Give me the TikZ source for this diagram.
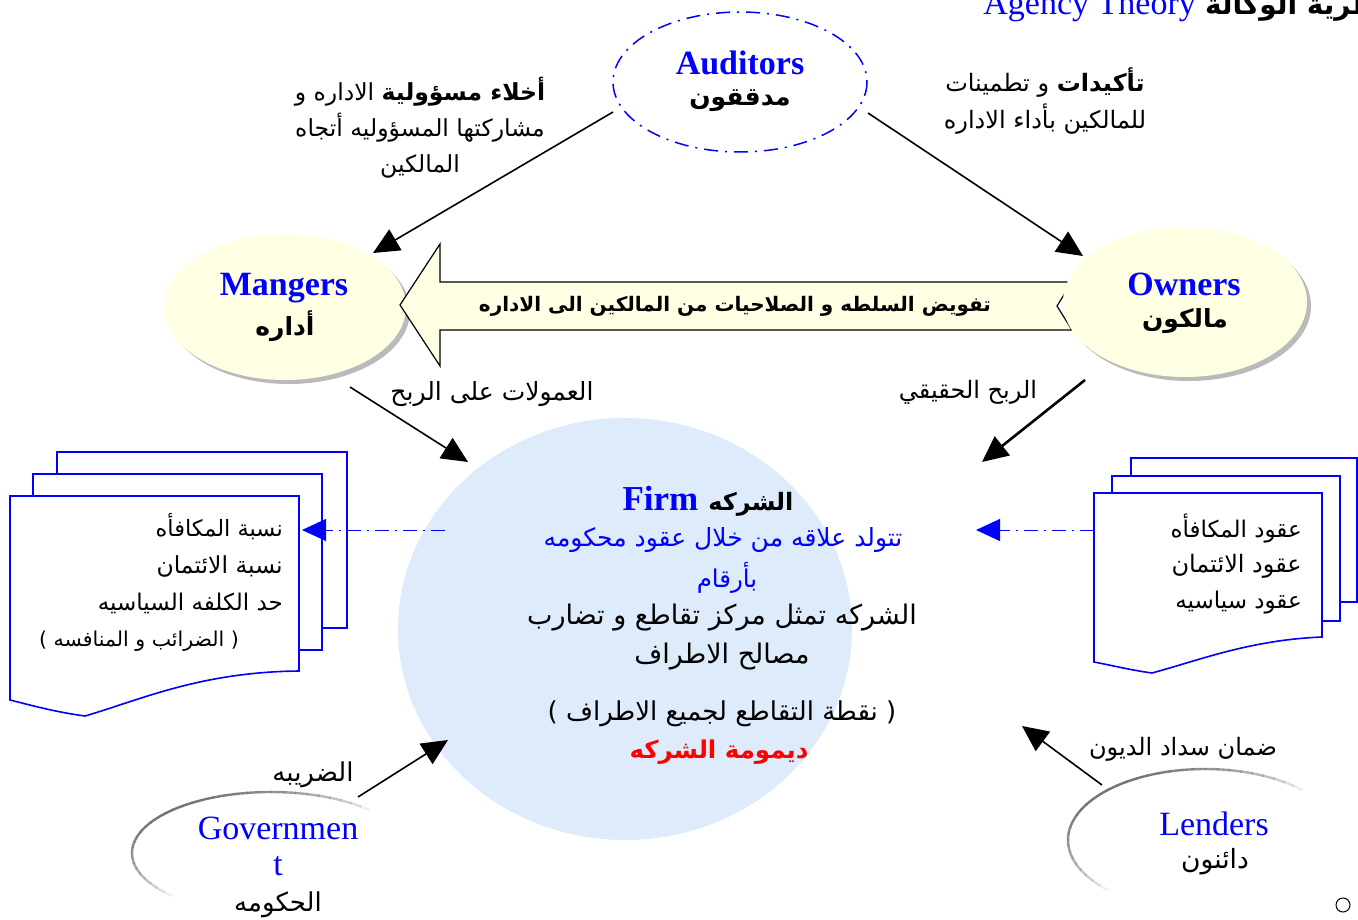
\documentclass[tikz,border=0pt]{standalone}
\usepackage{fontspec}
\setmainfont{Liberation Serif}
\newfontfamily\arabicfont[Script=Arabic]{DejaVu Sans}
\TeXXeTstate=1
\usetikzlibrary{arrows.meta,shadows,calc,shapes.geometric}
\newcommand{\ar}[1]{{\arabicfont\beginR #1\endR}}
\newcommand{\arb}[1]{{\arabicfont\bfseries\beginR #1\endR}}
\newcommand{\fs}[2]{\fontsize{#1}{#2}\selectfont}
\definecolor{cream}{HTML}{FFFFE3}
\definecolor{firmfill}{HTML}{DDEBFB}
\begin{document}
\begin{tikzpicture}[x=1pt,y=-1pt,
  txt/.style={inner sep=0pt, align=center, font=\fs{24}{36}},
  lat/.style={inner sep=0pt, align=center, text=blue, font=\fs{34}{40}},
  latb/.style={lat, font=\fs{34}{40}\bfseries},
  arrowline/.style={line width=1.6pt, -{Triangle[length=26pt,width=24pt]}},
  dashdot/.style={blue, line width=1pt, dash pattern=on 14pt off 6pt on 2pt off 6pt,
    -{Triangle[length=24pt,width=22pt]}},
  party/.style={ellipse, fill=cream, draw=none,
    drop shadow={shadow xshift=4pt, shadow yshift=-4pt, fill=black!45, opacity=0.6}},
  docpage/.style={draw=blue, line width=1.6pt, fill=white}
]
\useasboundingbox (0,0) rectangle (1358,920);

% ---------- title ----------
\node[lat, anchor=base east] (title) at (1196,15) {Agency Theory};
\node[inner sep=0pt, anchor=base west, font=\fs{28}{32}] (titlear) at (1205,15) {\arb{نظرية الوكالة}};

% ---------- auditors ----------
\draw[blue, line width=1.5pt, dash pattern=on 14pt off 7pt on 2pt off 7pt]
  (740,82) ellipse[x radius=127, y radius=70];
\coordinate (aud) at (740,82);
\node[latb] (audEn) at (740,63) {Auditors};
\node[txt, font=\fs{25}{28}] (audAr) at (740,101) {\arb{مدققون}};

% ---------- side labels of the auditors ----------
\node[txt, font=\fs{23.5}{36}] (leftlbl) at (420,128) {%
  \ar{{\bfseries أخلاء مسؤولية} الاداره و}\\
  \ar{مشاركتها المسؤوليه أتجاه}\\
  \ar{المالكين}};
\node[txt, font=\fs{24}{37}] (rightlbl) at (1045,101) {%
  \ar{{\bfseries تأكيدات} و تطمينات}\\
  \ar{للمالكين بأداء الاداره}};

% ---------- managers, big arrow, owners ----------
\node[party, minimum width=242pt, minimum height=146pt] (mgr) at (285,307) {};
\node[latb] (mgrEn) at (284,288) {Mangers};
\node[txt, font=\fs{25}{28}] (mgrAr) at (285,326) {\arb{أداره}};

\coordinate (tip) at (400,305);
\draw[fill=cream, line width=1.2pt, line join=miter]
  (tip) -- (440,244) -- (440,282) -- (1072,282) -- (1057,306) -- (1072,330)
  -- (440,330) -- (440,366) -- cycle;
\node[txt, font=\fs{20}{24}] (deleg) at (735,306)
  {\arb{تفويض السلطه و الصلاحيات من المالكين الى الاداره}};

\node[party, minimum width=244pt, minimum height=150pt] (own) at (1185,302) {};
\node[latb] (ownEn) at (1184,284) {Owners};
\node[txt, font=\fs{25}{28}] (ownAr) at (1185,321) {\arb{مالكون}};

% ---------- auditors to managers / owners ----------
\coordinate (audL) at (613,112);
\coordinate (audR) at (868,113);
\coordinate (mgrTop) at (373,253);
\coordinate (ownTop) at (1083,256);
\draw[arrowline] (audL) -- (mgrTop);
\draw[arrowline] (audR) -- (ownTop);

% ---------- the firm ----------
\node[ellipse, fill=firmfill, minimum width=454pt, minimum height=422pt, inner sep=0pt] (firm) at (625,629) {};
\node[inner sep=0pt, anchor=base] (firmT) at (708,510)
  {{\color{blue}\fs{35}{40}\bfseries Firm}\hspace{10pt}{\fs{24}{28}\arb{الشركه}}};
\node[txt, text=blue, font=\fs{25}{30}] (firm1) at (723,540) {\ar{تتولد علاقه من خلال عقود محكومه}};
\node[txt, text=blue, font=\fs{24.5}{30}] (firm2) at (727,578) {\ar{بأرقام}};
\node[txt, font=\fs{27}{39}] (firm3) at (722,637) {%
  \ar{الشركه تمثل مركز تقاطع و تضارب}\\ \ar{مصالح الاطراف}};
\node[txt, font=\fs{26}{30}] (firm4) at (722,714) {\ar{( نقطة التقاطع لجميع الاطراف )}};
\node[txt, text=red, font=\fs{24.5}{28}] (firm5) at (719,752) {\arb{ديمومة الشركه}};

% ---------- managers / owners to the firm ----------
\coordinate (mgrOut) at (350,387);
\coordinate (firmNW) at (468,462);
\coordinate (ownOut) at (1085,380);
\coordinate (firmNE) at (982,462);
\draw[arrowline] (mgrOut) -- (firmNW);
\draw[arrowline, line width=2.6pt] (ownOut) -- (firmNE);
\node[txt, font=\fs{25}{30}] (commis) at (492,394) {\ar{العمولات على الربح}};
\node[txt] (profit) at (968,392) {\ar{الربح الحقيقي}};

% ---------- left document stack ----------
\draw[docpage] (57,452) rectangle (347,628);
\draw[docpage] (33,474) rectangle (322,650);
\draw[docpage] (10,496) -- (299,496) -- (299,671)
  .. controls (200,672) and (140,700) .. (85,716)
  .. controls (55,712) and (30,705) .. (10,700) -- cycle;
\node[txt, anchor=east, font=\fs{22.5}{28}] (l1) at (283,527) {\ar{نسبة المكافأه}};
\node[txt, anchor=east, font=\fs{23.5}{28}] (l2) at (283,566) {\ar{نسبة الائتمان}};
\node[txt, anchor=east, font=\fs{23}{28}] (l3) at (283,603) {\ar{حد الكلفه السياسيه}};
\node[txt, font=\fs{20.5}{24}] (l4) at (139,641) {\ar{( الضرائب و المنافسه )}};
\coordinate (leftDoc) at (302,530);
\coordinate (firmW) at (445,530);
\draw[dashdot] (firmW) -- (leftDoc);

% ---------- right document stack ----------
\draw[docpage] (1131,458) rectangle (1357,602);
\draw[docpage] (1112,476) rectangle (1340,621);
\draw[docpage] (1094,493) -- (1322,493) -- (1322,637)
  .. controls (1250,640) and (1200,660) .. (1152,673)
  .. controls (1130,670) and (1110,665) .. (1094,662) -- cycle;
\node[txt, anchor=east, font=\fs{23}{28}] (r1) at (1302,528) {\ar{عقود المكافأه}};
\node[txt, anchor=east, font=\fs{24}{28}] (r2) at (1302,566) {\ar{عقود الائتمان}};
\node[txt, anchor=east, font=\fs{23}{28}] (r3) at (1302,603) {\ar{عقود سياسيه}};
\coordinate (rightDoc) at (1094,530);
\coordinate (firmE) at (976,530);
\draw[dashdot] (rightDoc) -- (firmE);

% ---------- government ----------
\coordinate (gov) at (271,853);
\foreach \a in {125,130,...,355}{
  \pgfmathsetmacro\op{max(0,cos(\a+2.5-225))^0.7}
  \draw[black!55, line width=2.4pt, opacity=\op]
    (gov) ++(\a:139 and 61) arc[start angle=\a, end angle=\a+5.5, x radius=139, y radius=61];
}
\node[lat] (govEn) at (278,828) {Governmen};
\node[lat] (govT) at (278,866) {t};
\node[txt, font=\fs{26}{30}] (govAr) at (278,905) {\ar{الحكومه}};
\node[txt, font=\fs{26}{30}] (tax) at (313,775) {\ar{الضريبه}};
\coordinate (govOut) at (358,797);
\coordinate (firmSW) at (448,740);
\draw[arrowline] (govOut) -- (firmSW);

% ---------- lenders ----------
\coordinate (lend) at (1205,840);
\foreach \a in {125,130,...,355}{
  \pgfmathsetmacro\op{max(0,cos(\a+2.5-225))^0.7}
  \draw[black!55, line width=2.4pt, opacity=\op]
    (lend) ++(\a:137 and 71) arc[start angle=\a, end angle=\a+5.5, x radius=137, y radius=71];
}
\node[lat] (lendEn) at (1214,824) {Lenders};
\node[txt, font=\fs{26.5}{30}] (lendAr) at (1215,862) {\ar{دائنون}};
\node[txt] (debt) at (1183,749) {\ar{ضمان سداد الديون}};
\coordinate (lendOut) at (1102,785);
\coordinate (firmSE) at (1022,726);
\draw[arrowline] (lendOut) -- (firmSE);

% ---------- bullet ----------
\draw[line width=1pt] (1343,905) circle[radius=7];
\end{tikzpicture}
\end{document}
